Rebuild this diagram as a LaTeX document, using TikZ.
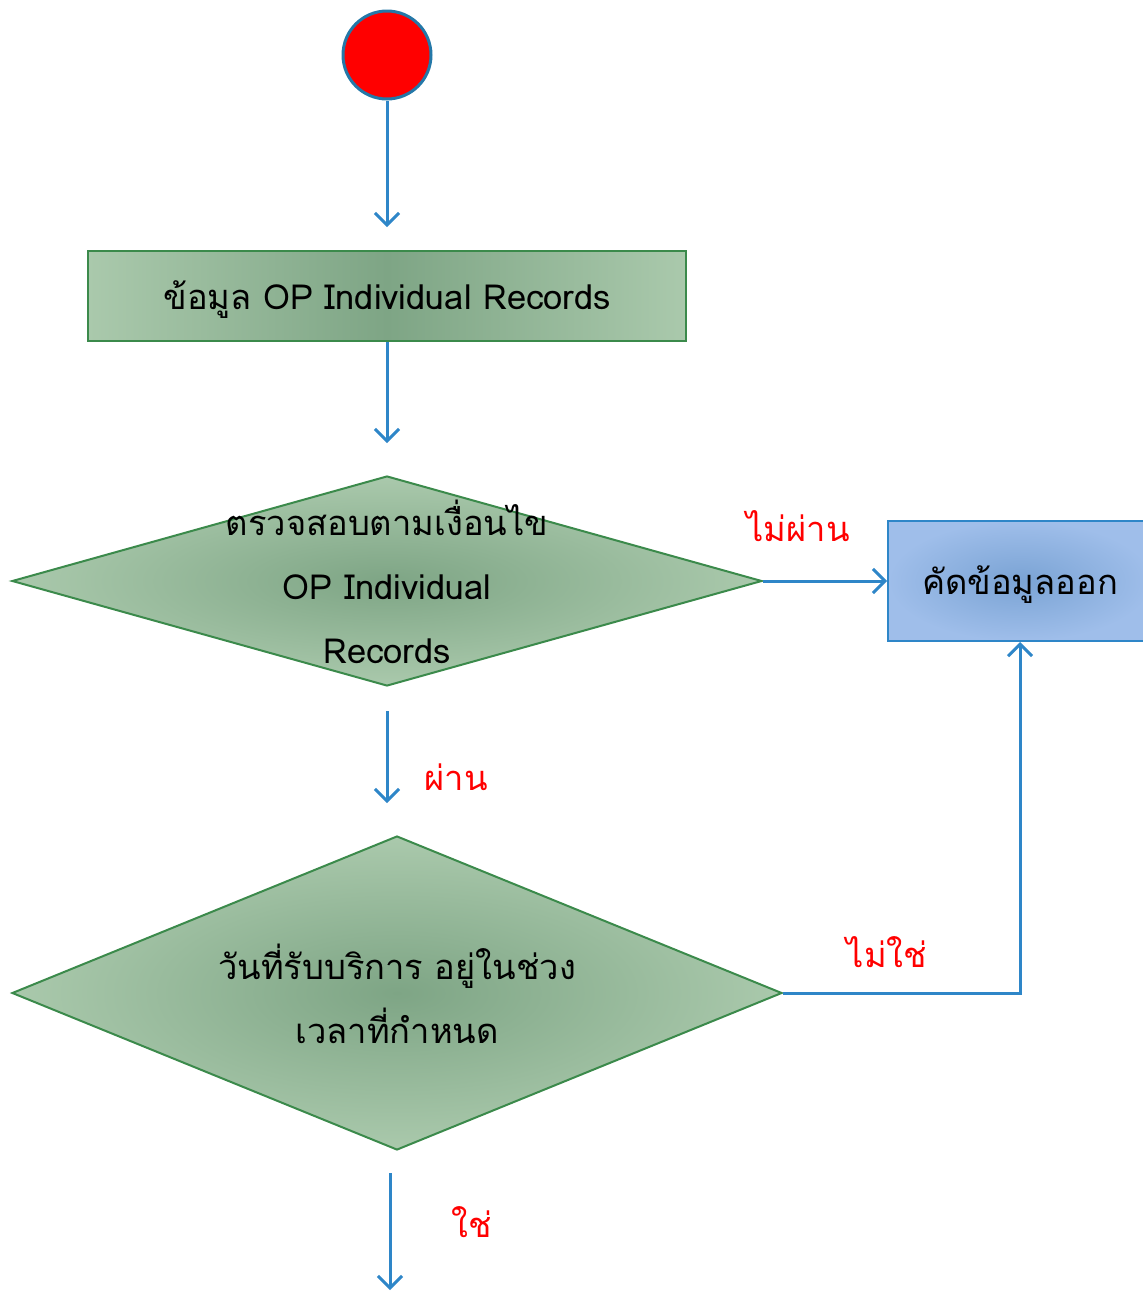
\documentclass[tikz,border=0pt]{standalone}
\usepackage{fontspec}
\setmainfont{Loma}[Script=Thai]
\usetikzlibrary{shapes.geometric,arrows.meta}

\definecolor{flowblue}{HTML}{2E86C8}
\definecolor{ringblue}{HTML}{2478A8}
\definecolor{boxgreen}{HTML}{3B8A4B}
\definecolor{greenlight}{HTML}{AAC9AC}
\definecolor{greendark}{HTML}{7EA585}
\definecolor{bluelight}{HTML}{9FBEEA}
\definecolor{bluedark}{HTML}{7AA3D4}
\definecolor{lblred}{HTML}{FF0000}

\tikzset{
  flow/.style={draw=flowblue, line width=3pt, -{Straight Barb[length=12pt,width=24pt]}},
  txt/.style={font=\fontsize{34.5}{64}\selectfont, align=center, inner sep=0pt},
  lbl/.style={txt, text=lblred},
  stepbox/.style={draw=boxgreen, line width=2pt, left color=greenlight, right color=greenlight, middle color=greendark},
  cond/.style={diamond, draw=boxgreen, line width=2pt, inner color=greendark, outer color=greenlight, inner sep=0pt},
  outbox/.style={draw=flowblue, line width=2pt, inner color=bluedark, outer color=bluelight}
}

\begin{document}
\begin{tikzpicture}[x=1pt,y=-1pt]
\useasboundingbox (0,0) rectangle (1143,1291);

% start
\node[circle, draw=ringblue, line width=3pt, fill=red, minimum size=88pt] (start) at (387,55) {};

% boxes
\node[stepbox, minimum width=598pt, minimum height=90pt] (data) at (387,296) {};
\node[txt] (datatext) at (387,300) {ข้อมูล OP Individual Records};

\node[cond, minimum width=750pt, minimum height=210pt] (check) at (387,581) {};
\node[txt] (checktext) at (387,582) {ตรวจสอบตามเงื่อนไข\\OP Individual\\Records};

\node[outbox, minimum width=264pt, minimum height=120pt] (cut) at (1020,581) {};
\node[txt] (cuttext) at (1020,585) {คัดข้อมูลออก};

\node[cond, minimum width=770pt, minimum height=314pt] (period) at (397,993) {};
\node[txt] (periodtext) at (397,994) {วันที่รับบริการ อยู่ในช่วง\\เวลาที่กำหนด};

\coordinate (finish) at (390,1290);

% labels
\node[lbl] (nopass) at (798,526) {ไม่ผ่าน};
\node[lbl] (pass) at (456,777) {ผ่าน};
\node[lbl] (notin) at (887,952) {ไม่ใช่};
\node[lbl] (yes) at (472,1222) {ใช่};

% connectors
\draw[flow, shorten >=23pt] (start) -- (data);
\draw[flow, shorten >=32pt] (data) -- (check);
\draw[flow, shorten <=24pt, shorten >=32pt] (check.south) -- (check.south |- period.north);
\draw[flow] (check.east) -- (cut.west);
\draw[flow] (period.east) -| (cut.south);
\draw[flow, shorten <=22pt] (finish |- period.south) -- (finish);
\end{tikzpicture}
\end{document}
